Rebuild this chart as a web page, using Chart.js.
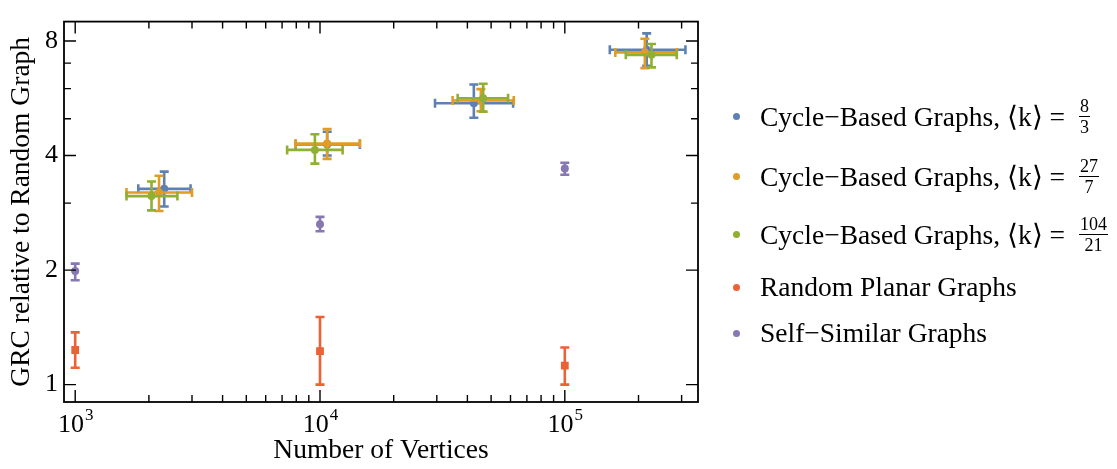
<!DOCTYPE html>
<html>
<head>
<meta charset="utf-8">
<script src="https://cdn.jsdelivr.net/npm/chart.js@4.4.1/dist/chart.umd.min.js"></script>
<style>
  body { margin: 0; background: #fff; }
  #wrap { position: relative; width: 1117px; height: 469px; }
  #legend {
    position: absolute; left: 733px; top: 84px;
    font-family: 'Liberation Serif', 'Times New Roman', serif; font-size: 27.5px; color: #000;
  }
  .row { display: flex; align-items: center; white-space: nowrap; }
  .dot { width: 7px; height: 7px; border-radius: 50%; margin-right: 20px; flex: none; }
  .frac {
    display: inline-flex; flex-direction: column; align-items: center;
    font-size: 18px; line-height: 1; margin-left: 14px;
  }
  .frac .num { border-bottom: 1px solid #000; padding: 0 1px 1px; }
  .frac .den { padding-top: 1px; }
</style>
</head>
<body>
<div id="wrap">
  <canvas id="chart-canvas"></canvas>
  <div id="legend"></div>
</div>
<script>
// cycle-based graphs, <k> = 8/3
const blueX   = [2310, 10700, 42500, 216000];
const blueXLo = [1810, 7950, 29500, 152700];
const blueXHi = [2960, 14550, 61500, 311000];
const blueY   = [3.27, 4.28, 5.49, 7.59];
const blueYLo = [2.94, 4.00, 5.03, 6.89];
const blueYHi = [3.63, 4.62, 6.15, 8.38];

// cycle-based graphs, <k> = 27/7
const orangeX   = [2200, 10690, 45400, 212300];
const orangeXLo = [1620, 7945, 34800, 160800];
const orangeXHi = [3000, 14550, 61900, 286600];
const orangeY   = [3.20, 4.30, 5.58, 7.47];
const orangeYLo = [2.86, 3.92, 5.23, 6.79];
const orangeYHi = [3.54, 4.70, 5.98, 8.11];

// cycle-based graphs, <k> = 104/21
const greenX   = [2050, 9530, 46400, 226000];
const greenXLo = [1620, 7340, 36500, 177500];
const greenXHi = [2615, 12370, 58650, 286600];
const greenY   = [3.13, 4.14, 5.66, 7.36];
const greenYLo = [2.87, 3.81, 5.22, 6.82];
const greenYHi = [3.42, 4.55, 6.18, 7.86];

// random planar + self-similar
const sizes    = [1000, 10000, 100000];
const planarY   = [1.233, 1.225, 1.122];
const planarYLo = [1.107, 1.0, 1.0];
const planarYHi = [1.372, 1.505, 1.252];
const selfY   = [1.99, 2.64, 3.70];
const selfYLo = [1.88, 2.53, 3.56];
const selfYHi = [2.08, 2.76, 3.83];

const seriesNames = ['Cycle\u2212Based Graphs, \u27E8k\u27E9 = ', 'Cycle\u2212Based Graphs, \u27E8k\u27E9 = ',
  'Cycle\u2212Based Graphs, \u27E8k\u27E9 = ', 'Random Planar Graphs', 'Self\u2212Similar Graphs'];
const kNum = ['8', '27', '104', null, null];
const kDen = ['3', '7', '21', null, null];
const colors = ['#5E81B5', '#E19C24', '#8FB032', '#EB6235', '#8778B3'];

const xMajor = [1000, 10000, 100000];
const yMajor = [1, 2, 4, 8];
const yMinor = [3, 5, 6, 7];

const FONT = "'Liberation Serif', 'Times New Roman', serif";

function pts(xs, ys) {
  return xs.map((x, i) => ({ x: x, y: ys[i] }));
}

function makeSet(i, xs, ys, err, style, radius) {
  return Object.assign({
    label: seriesNames[i],
    data: pts(xs, ys),
    backgroundColor: colors[i],
    borderColor: colors[i],
    pointStyle: style,
    pointRadius: radius,
    pointBorderWidth: 0,
    showLine: false,
    order: -i
  }, err);
}

const datasets = [
  makeSet(0, blueX, blueY, { xLo: blueXLo, xHi: blueXHi, yLo: blueYLo, yHi: blueYHi }, 'circle', 4),
  makeSet(1, orangeX, orangeY, { xLo: orangeXLo, xHi: orangeXHi, yLo: orangeYLo, yHi: orangeYHi }, 'circle', 4),
  makeSet(2, greenX, greenY, { xLo: greenXLo, xHi: greenXHi, yLo: greenYLo, yHi: greenYHi }, 'circle', 4),
  makeSet(3, sizes, planarY, { yLo: planarYLo, yHi: planarYHi }, 'rect', 5.5),
  makeSet(4, sizes, selfY, { yLo: selfYLo, yHi: selfYHi }, 'circle', 4)
];

// error bars, drawn under each dataset's own points
const errorBars = {
  id: 'errorBars',
  beforeDatasetDraw(chart, args) {
    const ds = chart.data.datasets[args.index];
    const xs = chart.scales.x, ys = chart.scales.y;
    const ctx = chart.ctx;
    const cap = 4.5;
    ctx.save();
    ctx.strokeStyle = ds.borderColor;
    ctx.lineWidth = 2.6;
    ctx.lineCap = 'butt';
    ds.data.forEach((p, j) => {
      const px = xs.getPixelForValue(p.x), py = ys.getPixelForValue(p.y);
      ctx.beginPath();
      if (ds.yLo) {
        const a = ys.getPixelForValue(ds.yLo[j]), b = ys.getPixelForValue(ds.yHi[j]);
        ctx.moveTo(px, a); ctx.lineTo(px, b);
        ctx.moveTo(px - cap, a); ctx.lineTo(px + cap, a);
        ctx.moveTo(px - cap, b); ctx.lineTo(px + cap, b);
      }
      if (ds.xLo) {
        const a = xs.getPixelForValue(ds.xLo[j]), b = xs.getPixelForValue(ds.xHi[j]);
        ctx.moveTo(a, py); ctx.lineTo(b, py);
        ctx.moveTo(a, py - cap); ctx.lineTo(a, py + cap);
        ctx.moveTo(b, py - cap); ctx.lineTo(b, py + cap);
      }
      ctx.stroke();
    });
    ctx.restore();
  }
};

// frame, inward ticks on all four sides, x labels with exponent
const frame = {
  id: 'frame',
  afterDraw(chart) {
    const ctx = chart.ctx, a = chart.chartArea;
    const xs = chart.scales.x, ys = chart.scales.y;
    ctx.save();
    ctx.strokeStyle = '#000';
    ctx.lineWidth = 1.8;
    ctx.strokeRect(a.left, a.top, a.right - a.left, a.bottom - a.top);

    ctx.lineWidth = 1.4;
    ctx.beginPath();
    const xTicks = [];
    [100, 1000, 10000, 100000].forEach(d => {
      for (let m = 1; m < 10; m++) xTicks.push({ v: d * m, major: m === 1 });
    });
    xTicks.forEach(t => {
      const px = xs.getPixelForValue(t.v);
      if (px <= a.left + 1 || px >= a.right - 1) return;
      const len = t.major ? 12 : 7;
      ctx.moveTo(px, a.bottom); ctx.lineTo(px, a.bottom - len);
      ctx.moveTo(px, a.top); ctx.lineTo(px, a.top + len);
    });
    yMajor.map(v => ({ v: v, major: true })).concat(yMinor.map(v => ({ v: v, major: false }))).forEach(t => {
      const py = ys.getPixelForValue(t.v);
      const len = t.major ? 12 : 7;
      ctx.moveTo(a.left, py); ctx.lineTo(a.left + len, py);
      ctx.moveTo(a.right, py); ctx.lineTo(a.right - len, py);
    });
    ctx.stroke();

    ctx.fillStyle = '#000';
    ctx.textBaseline = 'alphabetic';
    xMajor.forEach(v => {
      const px = xs.getPixelForValue(v);
      const exp = String(Math.round(Math.log10(v)));
      ctx.font = '26px ' + FONT;
      const w1 = ctx.measureText('10').width;
      ctx.font = '17px ' + FONT;
      const w2 = ctx.measureText(exp).width;
      const left = px - (w1 + w2) / 2;
      ctx.font = '26px ' + FONT;
      ctx.textAlign = 'left';
      ctx.fillText('10', left, a.bottom + 30);
      ctx.font = '17px ' + FONT;
      ctx.fillText(exp, left + w1 + 1, a.bottom + 18);
    });
    ctx.restore();
  }
};

const chartCtx = document.getElementById('chart-canvas');

const scatterChart = new Chart(chartCtx, {
  type: 'scatter',
  data: { datasets: datasets },
  options: {
    responsive: true,
    maintainAspectRatio: false,
    animation: false,
    layout: { padding: { top: 9, right: 419, left: 0, bottom: 0 } },
    plugins: { legend: { display: false }, tooltip: { enabled: false } },
    scales: {
      x: {
        type: 'logarithmic',
        min: 900,
        max: 350000,
        grid: { display: false },
        border: { display: false },
        ticks: { display: false },
        afterBuildTicks: s => { s.ticks = xMajor.map(v => ({ value: v })); },
        afterFit: s => { s.height = 67; },
        title: {
          display: true,
          text: 'Number of Vertices',
          color: '#000',
          font: { family: FONT, size: 27.5 },
          padding: { top: 0, bottom: 2 }
        }
      },
      y: {
        type: 'logarithmic',
        min: 0.9,
        max: 9.0,
        grid: { display: false, drawTicks: false },
        border: { display: false },
        ticks: {
          color: '#000',
          font: { family: FONT, size: 26 },
          padding: 6,
          callback: v => String(v)
        },
        afterBuildTicks: s => { s.ticks = yMajor.map(v => ({ value: v })); },
        afterFit: s => { s.width = 64; },
        title: {
          display: true,
          text: 'GRC relative to Random Graph',
          color: '#000',
          font: { family: FONT, size: 27.5 },
          padding: { top: 5, bottom: 0 }
        }
      }
    }
  },
  plugins: [errorBars, frame]
});

// legend with stacked fractions
const legendEl = document.getElementById('legend');
const rowHeights = [64, 56, 60, 46, 46];
seriesNames.forEach((name, i) => {
  const row = document.createElement('div');
  row.className = 'row';
  row.style.height = rowHeights[i] + 'px';
  let html = '<span class="dot" style="background:' + colors[i] + '"></span><span>' + name + '</span>';
  if (kNum[i]) {
    html += '<span class="frac"><span class="num">' + kNum[i] + '</span><span class="den">' + kDen[i] + '</span></span>';
  }
  row.innerHTML = html;
  legendEl.appendChild(row);
});
</script>
</body>
</html>
